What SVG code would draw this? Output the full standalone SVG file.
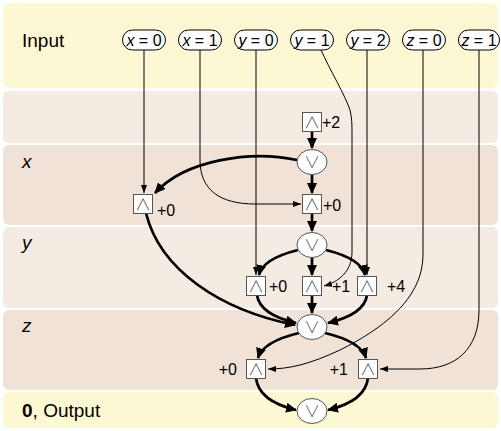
<svg xmlns="http://www.w3.org/2000/svg" width="501" height="431" viewBox="0 0 501 431">
<defs>
<marker id="ah" markerUnits="userSpaceOnUse" markerWidth="11" markerHeight="10" refX="10" refY="5" orient="auto"><path d="M0,0 L11,5 L0,10 z" fill="#000"/></marker>
<marker id="as" markerUnits="userSpaceOnUse" markerWidth="8" markerHeight="6" refX="8" refY="3" orient="auto"><path d="M0,0 L8,3 L0,6 z" fill="#000"/></marker>
<style>
.yl{fill:#fdf8d4}.lt{fill:#f4ebe2}.dk{fill:#f0e2d6}
.row{font-family:"Liberation Sans",Arial,sans-serif;font-size:19px;fill:#000}
.lab{font-family:"Liberation Sans",Arial,sans-serif;font-size:16px;fill:#000}
.pt{font-family:"Liberation Sans",Arial,sans-serif;font-size:16px;fill:#000;text-anchor:middle}
.pill{fill:#fff;stroke:#000;stroke-width:1}
.box{fill:#fff;stroke:#555;stroke-width:1}
.sym{font-family:"Noto Sans CJK JP","DejaVu Sans",sans-serif;font-size:16px;font-weight:300;fill:#555;text-anchor:middle}
.thick{fill:none;stroke:#000;stroke-width:2.7;marker-end:url(#ah)}
.thin{fill:none;stroke:#000;stroke-width:1;marker-end:url(#as)}
</style>
</defs>
<g id="bands">
<rect class="yl" x="3" y="3" width="495" height="85" rx="6"/>
<rect class="lt" x="3" y="91" width="495" height="52" rx="6"/>
<rect class="dk" x="3" y="145" width="495" height="80" rx="6"/>
<rect class="lt" x="3" y="227" width="495" height="81" rx="6"/>
<rect class="dk" x="3" y="310" width="495" height="80" rx="6"/>
<rect class="yl" x="3" y="392" width="495" height="36" rx="6"/>
<text class="row" x="22" y="47">Input</text>
<text class="row" x="22" y="168" font-style="italic">x</text>
<text class="row" x="22" y="249" font-style="italic">y</text>
<text class="row" x="22" y="332" font-style="italic">z</text>
<text class="row" x="22" y="417"><tspan font-weight="bold">0</tspan>, Output</text>
</g>
<g id="connectors">
<path class="thin" d="M144,50 L144,193"/>
<path class="thin" d="M200,50 L200,160 C200,190 220,204 255,204 L301,204"/>
<path class="thin" d="M256,50 L256,275"/>
<path class="thin" d="M321,50 C330,70 345,95 350,110 C352,118 352,125 352,135 L352,252 C352,272 338,282 324,286"/>
<path class="thin" d="M367,50 L367,275"/>
<path class="thin" d="M423,50 L423,255 C423,300 380,330 340,350 C310,364 290,369 268,369"/>
<path class="thin" d="M479,50 L479,310 C479,350 455,369 420,369 L380,369"/>
<path class="thick" d="M312,131 L312,148"/>
<path class="thick" d="M297,160 C250,150 185,160 155,193"/>
<path class="thick" d="M312,174 L312,193"/>
<path class="thick" d="M312,213 L312,231"/>
<path class="thick" d="M298,250 C278,255 262,262 259,275"/>
<path class="thick" d="M312,257 L312,275"/>
<path class="thick" d="M326,250 C346,255 362,262 365,275"/>
<path class="thick" d="M146,213 C160,270 220,310 295,325"/>
<path class="thick" d="M257,295 C259,310 275,318 296,323"/>
<path class="thick" d="M312,295 L312,313"/>
<path class="thick" d="M367,295 C365,310 349,318 328,323"/>
<path class="thick" d="M299,333 C278,338 262,345 258,358"/>
<path class="thick" d="M325,333 C346,338 362,345 366,358"/>
<path class="thick" d="M256,378 C258,395 275,405 296,410"/>
<path class="thick" d="M368,378 C366,395 349,405 328,410"/>
</g>
<g id="in-x0"><rect class="pill" x="122.5" y="30" width="43" height="20" rx="10"/><text class="pt" x="144" y="46"><tspan font-style="italic">x</tspan> = 0</text></g>
<g id="in-x1"><rect class="pill" x="178.5" y="30" width="43" height="20" rx="10"/><text class="pt" x="200" y="46"><tspan font-style="italic">x</tspan> = 1</text></g>
<g id="in-y0"><rect class="pill" x="234.5" y="30" width="43" height="20" rx="10"/><text class="pt" x="256" y="46"><tspan font-style="italic">y</tspan> = 0</text></g>
<g id="in-y1"><rect class="pill" x="290.5" y="30" width="43" height="20" rx="10"/><text class="pt" x="312" y="46"><tspan font-style="italic">y</tspan> = 1</text></g>
<g id="in-y2"><rect class="pill" x="346.5" y="30" width="43" height="20" rx="10"/><text class="pt" x="368" y="46"><tspan font-style="italic">y</tspan> = 2</text></g>
<g id="in-z0"><rect class="pill" x="402.5" y="30" width="43" height="20" rx="10"/><text class="pt" x="424" y="46"><tspan font-style="italic">z</tspan> = 0</text></g>
<g id="in-z1"><rect class="pill" x="458.5" y="30" width="41" height="20" rx="10"/><text class="pt" x="479" y="46"><tspan font-style="italic">z</tspan> = 1</text></g>
<g id="a2"><rect class="box" x="302.5" y="112.5" width="19" height="19"/><text class="sym" x="312" y="128">∧</text><text class="lab" x="322" y="128">+2</text></g>
<g id="o1"><ellipse class="box" cx="312" cy="162" rx="15" ry="12.5"/><text class="sym" x="312" y="168">∨</text></g>
<g id="al"><rect class="box" x="133.5" y="194.5" width="19" height="19"/><text class="sym" x="143" y="210">∧</text><text class="lab" x="157" y="216">+0</text></g>
<g id="am"><rect class="box" x="302.5" y="194.5" width="19" height="19"/><text class="sym" x="312" y="210">∧</text><text class="lab" x="323" y="211">+0</text></g>
<g id="o2"><ellipse class="box" cx="312" cy="245" rx="15" ry="12.5"/><text class="sym" x="312" y="251">∨</text></g>
<g id="b1"><rect class="box" x="246.5" y="276.5" width="19" height="19"/><text class="sym" x="256" y="292">∧</text><text class="lab" x="269" y="292">+0</text></g>
<g id="b2"><rect class="box" x="302.5" y="276.5" width="19" height="19"/><text class="sym" x="312" y="292">∧</text><text class="lab" x="332" y="292">+1</text></g>
<g id="b3"><rect class="box" x="357.5" y="276.5" width="19" height="19"/><text class="sym" x="367" y="292">∧</text><text class="lab" x="387" y="292">+4</text></g>
<g id="o3"><ellipse class="box" cx="312" cy="327" rx="15" ry="12.5"/><text class="sym" x="312" y="333">∨</text></g>
<g id="c1"><rect class="box" x="246.5" y="359.5" width="19" height="19"/><text class="sym" x="256" y="375">∧</text><text class="lab" x="237" y="375" text-anchor="end">+0</text></g>
<g id="c2"><rect class="box" x="358.5" y="359.5" width="19" height="19"/><text class="sym" x="368" y="375">∧</text><text class="lab" x="348" y="375" text-anchor="end">+1</text></g>
<g id="o4"><ellipse class="box" cx="312" cy="411" rx="15" ry="12.5"/><text class="sym" x="312" y="417">∨</text></g>
</svg>
